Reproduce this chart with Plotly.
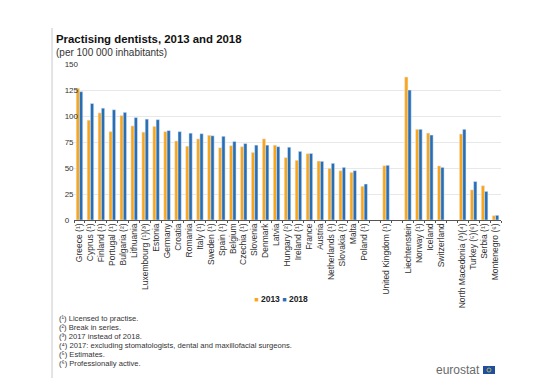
import plotly.graph_objects as go

categories = ["Greece (¹)", "Cyprus (¹)", "Finland (¹)", "Portugal (¹)", "Bulgaria (²)", "Lithuania",
              "Luxembourg (¹)(³)", "Estonia", "Germany", "Croatia", "Romania", "Italy (¹)", "Sweden (¹)",
              "Spain (¹)", "Belgium", "Czechia (¹)", "Slovenia", "Denmark", "Latvia", "Hungary (²)",
              "Ireland (¹)", "France", "Austria", "Netherlands (¹)", "Slovakia (¹)", "Malta", "Poland (¹)",
              " ", "United Kingdom (¹)", "  ", "Liechtenstein", "Norway (¹)", "Iceland", "Switzerland",
              "   ", "North Macedonia (³)(⁴)", "Turkey (⁵)(⁶)", "Serbia (¹)", "Montenegro (⁶)"]
values_2013 = [126.6, 96, 103, 85, 100.5, 90.5, 84.5, 90, 85, 76, 71, 78, 81.5, 69.5, 71.5, 70.5, 65, 78, 72, 60,
               57.4, 63.8, 56.7, 49.7, 47.4, 45.8, 32.4, None, 52.2, None, 137.5, 87.2, 83.6, 52, None,
               82.7, 29, 33, 4.2]
values_2018 = [123.4, 112, 107.5, 106, 103.5, 98.5, 97, 96.5, 86, 85, 83.5, 83, 81, 80.5, 75.5, 73.5, 72, 72, 70.5, 70,
               66, 64, 56.4, 54.5, 50.6, 47.4, 34.6, None, 52.6, None, 125, 87.2, 81.7, 50.6, None,
               87.2, 37, 27.5, 4.5]
y_ticks = [0, 25, 50, 75, 100, 125, 150]
y_ticklabels = ["0\u2007\u2007", "25\u2007", "50\u2007", "75\u2007", "100", "125", "150"]
footnotes = ["(¹) Licensed to practise.", "(²) Break in series.", "(³) 2017 instead of 2018.",
             "(⁴) 2017: excluding stomatologists, dental and maxillofacial surgeons.",
             "(⁵) Estimates.", "(⁶) Professionally active."]

ORANGE, BLUE = "#FAA519", "#286EB4"
FONT = "Liberation Sans"
TXT = "#333333"

def legend_name(color, label):
    return f"<span style='color:{color};font-size:7px'>■</span> {label}"

fig = go.Figure()
fig.add_bar(x=categories, y=values_2013, marker_color=ORANGE, showlegend=False)
fig.add_bar(x=categories, y=values_2018, marker_color=BLUE, showlegend=False)
fig.add_scatter(x=[None], y=[None], mode="markers", name=legend_name(ORANGE, "2013"), legend="legend",
                marker=dict(symbol="square", size=1, color="rgba(0,0,0,0)"))
fig.add_scatter(x=[None], y=[None], mode="markers", name=legend_name(BLUE, "2018"), legend="legend2",
                marker=dict(symbol="square", size=1, color="rgba(0,0,0,0)"))

legend_common = dict(orientation="h", yref="paper", xref="paper", yanchor="middle", xanchor="left",
                     bgcolor="rgba(0,0,0,0)", itemwidth=30,
                     font=dict(family=FONT, size=8.5, color="#222222", weight="bold"))
W, H = 552, 383
L, R, T, B = 73.5, 51, 64, 163
pw, ph = W - L - R, H - T - B

def px(x):
    return (x - L) / pw

def py(y):
    return (H - B - y) / ph

annotations = [
    dict(text="<b>Practising dentists, 2013 and 2018</b>", xref="paper", yref="paper", showarrow=False,
         x=px(54), y=py(39.5), xanchor="left", yanchor="middle", xshift=-1,
         font=dict(size=11.4, color="#111111")),
    dict(text="(per 100 000 inhabitants)", xref="paper", yref="paper", showarrow=False,
         x=px(54.5), y=py(52), xanchor="left", yanchor="middle", xshift=-1,
         font=dict(size=10, color=TXT)),
    dict(text="eurostat", xref="paper", yref="paper", showarrow=False,
         x=px(482), y=py(370), xanchor="right", yanchor="middle",
         font=dict(size=12, color="#6A6A6A")),
]
for i, note in enumerate(footnotes):
    annotations.append(dict(text=note, xref="paper", yref="paper", showarrow=False, align="left",
                            x=px(56), y=py(318 + 9 * i), xanchor="left", yanchor="middle",
                            font=dict(size=7.6, color=TXT)))

fig.update_layout(
    width=W, height=H, autosize=False,
    margin=dict(l=L, r=R, t=T, b=B, autoexpand=False),
    paper_bgcolor="white", plot_bgcolor="white",
    barmode="group", bargap=0.4, bargroupgap=0,
    font=dict(family=FONT, size=8.5, color=TXT),
    xaxis=dict(type="category", categoryorder="array", categoryarray=categories,
               tickangle=-90, tickson="boundaries", ticks="outside", ticklen=2, tickcolor="#555555",
               tickfont=dict(size=8.5, color=TXT), showline=True, linecolor="#555555", linewidth=1,
               showgrid=False, automargin=False, range=[-0.5, 38.5], ticklabelstandoff=-1),
    yaxis=dict(range=[0, 150], tickvals=y_ticks, ticktext=y_ticklabels, ticks="", showline=False,
               gridcolor="#E8E8E8", gridwidth=1, zeroline=False, tickfont=dict(size=8, color=TXT),
               automargin=False, ticklabelstandoff=-5),
    legend=dict(x=px(214), y=py(299), **legend_common),
    legend2=dict(x=px(242), y=py(299), **legend_common),
    shapes=[
        dict(type="rect", xref="paper", yref="paper", x0=px(51), x1=px(52), y0=py(378), y1=py(28),
             fillcolor="#C8C8C8", line_width=0, layer="above"),
        dict(type="rect", xref="paper", yref="paper", x0=px(483), x1=px(495), y0=py(374), y1=py(366),
             fillcolor="#1F4E9E", line_width=0),
        dict(type="circle", xref="paper", yref="paper", x0=px(487), x1=px(491), y0=py(372), y1=py(368),
             line=dict(color="#D9C84A", width=0.8)),
    ],
    annotations=annotations,
)
fig.write_html("out.html", config={"displayModeBar": False},
               post_script="document.body.style.margin='0';document.documentElement.style.margin='0';")
